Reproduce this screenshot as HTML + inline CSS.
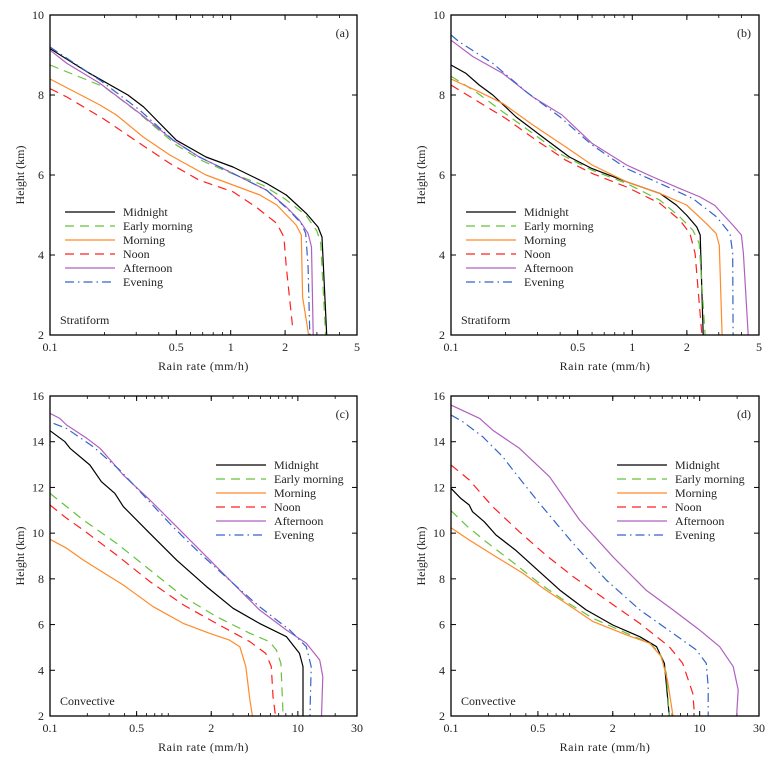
<!DOCTYPE html>
<html><head><meta charset="utf-8"><style>
html,body{margin:0;padding:0;background:#fff;}
svg{display:block;font-family:"Liberation Serif","DejaVu Serif",serif;}
</style></head><body>
<svg id="fig" width="783" height="763" viewBox="0 0 783 763" xmlns="http://www.w3.org/2000/svg"></svg>
<script>
// ---- Panel (a) stratiform ----
const aMidR=[0.1,0.16,0.27,0.33,0.5,0.73,1.03,1.58,2.03,2.62,3.04,3.2,3.4];
const aMidH=[9.16,8.58,8.0,7.7,6.87,6.45,6.2,5.79,5.5,5.04,4.7,4.45,2];
const aEarR=[0.1,0.2,0.3,0.5,0.7,1,1.5,2,2.6,3.0,3.15,3.35];
const aEarH=[8.75,8.2,7.6,6.75,6.35,6.05,5.75,5.4,5.0,4.6,4.3,2];
const aMorR=[0.1,0.189,0.233,0.328,0.46,0.73,1.45,1.8,2.3,2.46,2.5,2.7];
const aMorH=[8.4,7.75,7.5,6.95,6.5,6.0,5.5,5.25,4.75,4.5,2.95,2];
const aNooR=[0.1,0.124,0.197,0.314,0.46,0.67,1.03,1.38,1.8,1.97,2.03,2.2];
const aNooH=[8.16,7.95,7.41,6.79,6.29,5.87,5.58,5.2,4.79,4.45,3.7,2.2];
const aAftR=[0.1,0.124,0.189,0.314,0.48,0.67,1.03,1.58,2.03,2.4,2.68,2.8,2.86];
const aAftH=[9.12,8.79,8.29,7.54,6.87,6.45,6.04,5.62,5.2,4.87,4.54,4.2,2];
const aEveR=[0.1,0.189,0.314,0.48,0.67,1.03,1.58,2.1,2.46,2.6,2.68,2.74];
const aEveH=[9.2,8.37,7.62,6.87,6.45,6.04,5.62,5.12,4.79,4.54,3.7,2];
// ---- Panel (b) stratiform ----
const bMidR=[0.1,0.121,0.143,0.17,0.229,0.32,0.45,0.6,0.93,1.42,1.75,1.99,2.27,2.37,2.46];
const bMidH=[8.75,8.54,8.25,8.0,7.45,6.95,6.45,6.16,5.83,5.54,5.25,5.0,4.7,4.5,2];
const bEarR=[0.1,0.137,0.193,0.283,0.41,0.6,0.93,1.42,1.83,2.16,2.34,2.52];
const bEarH=[8.47,8.08,7.58,7.04,6.5,6.12,5.79,5.37,4.95,4.62,4.29,2];
const bMorR=[0.1,0.143,0.193,0.283,0.43,0.6,0.93,1.42,1.99,2.56,2.9,3.02,3.13];
const bMorH=[8.4,8.08,7.79,7.25,6.7,6.25,5.83,5.54,5.25,4.79,4.54,4.24,2];
const bNooR=[0.1,0.137,0.201,0.295,0.43,0.6,0.93,1.42,1.83,2.08,2.22,2.42];
const bNooH=[8.25,7.87,7.41,6.87,6.37,6.04,5.7,5.29,4.87,4.54,4.04,2];
const bAftR=[0.1,0.132,0.193,0.283,0.41,0.6,0.93,1.3,1.83,2.37,2.85,3.6,4.0,4.1,4.36];
const bAftH=[9.37,8.96,8.54,7.95,7.5,6.79,6.25,5.95,5.66,5.45,5.24,4.74,4.5,4.04,2];
const bEveR=[0.1,0.111,0.17,0.26,0.40,0.6,0.93,1.42,2.16,2.92,3.46,3.58,3.6];
const bEveH=[9.5,9.33,8.79,8.08,7.45,6.75,6.16,5.79,5.41,4.95,4.54,4.04,2];
// ---- Panel (c) convective ----
const cMidR=[0.1,0.132,0.145,0.21,0.26,0.334,0.39,0.64,1.05,1.83,3.0,4.9,8.1,10.3,11.0,11.0];
const cMidH=[14.48,14.0,13.71,12.98,12.25,11.74,11.16,9.99,8.82,7.66,6.71,6.05,5.47,4.74,4.16,2];
const cEarR=[0.1,0.136,0.185,0.345,0.64,1.19,2.2,4.1,5.9,6.7,7.3,7.6];
const cEarH=[11.74,11.16,10.58,9.55,8.39,7.22,6.35,5.62,5.25,4.89,4.3,2];
const cMorR=[0.1,0.136,0.185,0.237,0.39,0.68,1.19,1.94,2.8,3.4,3.8,4.1,4.3];
const cMorH=[9.73,9.34,8.83,8.46,7.73,6.78,6.05,5.62,5.32,5.03,4.16,2.7,2];
const cNooR=[0.1,0.136,0.185,0.345,0.64,1.19,2.2,4.1,5.5,6.1,6.3,6.6];
const cNooH=[11.23,10.65,10.14,9.04,7.88,6.86,6.05,5.25,4.74,4.16,2.85,2];
const cAftR=[0.1,0.12,0.136,0.198,0.253,0.324,0.39,0.64,1.05,1.83,3.0,4.9,8.1,11.7,15,15.9,15.5];
const cAftH=[15.24,15.02,14.73,14.15,13.71,13.05,12.54,11.45,10.28,8.97,7.8,6.64,5.76,5.18,4.45,3.72,2];
const cEveR=[0.107,0.136,0.223,0.366,0.565,0.98,1.62,3.0,4.9,8.6,11.7,12.8,12.5];
const cEveH=[14.8,14.58,13.78,12.76,11.67,10.28,9.12,7.8,6.78,5.76,5.03,4.16,2];
// ---- Panel (d) convective ----
const dMidR=[0.1,0.12,0.14,0.149,0.185,0.23,0.33,0.48,0.75,1.22,2.0,3.3,4.5,5.2,5.7];
const dMidH=[11.96,11.52,11.23,10.94,10.5,9.92,9.26,8.46,7.51,6.64,5.98,5.47,5.03,4.3,2];
const dEarR=[0.1,0.136,0.191,0.31,0.515,0.84,1.39,2.6,3.97,4.8,5.4,5.7];
const dEarH=[10.98,10.28,9.63,8.75,7.8,7.0,6.27,5.62,5.18,4.74,3.87,2];
const dMorR=[0.1,0.14,0.23,0.38,0.55,0.84,1.39,2.6,3.97,4.9,5.5,6.1];
const dMorH=[10.24,9.7,8.97,8.24,7.59,6.93,6.13,5.54,5.18,4.6,3.58,2];
const dNooR=[0.1,0.14,0.216,0.355,0.58,0.96,1.77,3.3,5.7,7.3,8.8,9.1];
const dNooH=[12.98,12.33,11.16,10.06,9.04,8.1,7.08,6.05,5.03,4.3,2.99,2];
const dAftR=[0.1,0.17,0.216,0.355,0.62,1.08,2.0,3.7,6.1,10.0,14.5,18.6,20.4,19.8];
const dAftH=[15.6,15.02,14.51,13.71,12.47,10.58,8.97,7.51,6.64,5.76,5.03,4.16,3.14,2];
const dEveR=[0.1,0.124,0.18,0.26,0.33,0.515,0.96,1.77,3.3,6.1,9.4,11.3,11.7,11.7];
const dEveH=[15.17,14.88,14.22,13.35,12.62,11.3,9.55,7.95,6.64,5.62,4.89,4.3,3.28,2];
// ---- labels / ticks ----
const seriesNames=["Midnight","Early  morning","Morning","Noon","Afternoon","Evening"];
const stratXTicks=[0.1,0.5,1,2,5];
const stratXTickLabels=["0.1","0.5","1","2","5"];
const convXTicks=[0.1,0.5,2,10,30];
const convXTickLabels=["0.1","0.5","2","10","30"];
const stratYTicks=[2,4,6,8,10];
const convYTicks=[2,4,6,8,10,12,14,16];

const NS="http://www.w3.org/2000/svg";
const svg=document.getElementById('fig');
const colors=["#000000","#66c23a","#ff8a2a","#ff2020","#b060c0","#3465c8"];
const dashes=[null,"9,6",null,"9,6",null,"9,4,1.5,4"];
function mk(tag,attrs,parent){const e=document.createElementNS(NS,tag);for(const k in attrs)e.setAttribute(k,attrs[k]);(parent||svg).appendChild(e);return e;}

function panel(id,x0,x1,y0,y1,xmin,xmax,ymin,ymax,xt,xtl,yt,series,tag,kind,legX,legY){
  const g=mk('g',{});
  
  
  const xs=v=>x0+(x1-x0)*Math.log10(v/xmin)/Math.log10(xmax/xmin);
  const ys=v=>y1-(y1-y0)*(v-ymin)/(ymax-ymin);
  // minor x ticks
  for(let d=-1;d<=1;d++){for(let m=2;m<=9;m++){const v=m*Math.pow(10,d);if(v<=xmin||v>=xmax)continue;const X=xs(v);
    const t1=mk('line',{x1:X,x2:X,y1:y1,y2:y1-3,stroke:'#000','stroke-width':0.8},g);
    
    const t2=mk('line',{x1:X,x2:X,y1:y0,y2:y0+3,stroke:'#000','stroke-width':0.8},g);
    }}
  xt.forEach((v,i)=>{const X=xs(v);
    const t=mk('line',{x1:X,x2:X,y1:y1,y2:y1-5,stroke:'#000','stroke-width':1},g);
    
    const t2=mk('line',{x1:X,x2:X,y1:y0,y2:y0+5,stroke:'#000','stroke-width':1},g);
    
    const l=mk('text',{x:X,y:y1+16,'font-size':12,'text-anchor':'middle',fill:'#222'},g);l.textContent=xtl[i];
    });
  yt.forEach(v=>{const Y=ys(v);
    const t=mk('line',{x1:x0,x2:x0+5,y1:Y,y2:Y,stroke:'#000','stroke-width':1},g);
    
    const t2=mk('line',{x1:x1,x2:x1-5,y1:Y,y2:Y,stroke:'#000','stroke-width':1},g);
    
    const l=mk('text',{x:x0-6,y:Y+4,'font-size':12,'text-anchor':'end',fill:'#222'},g);l.textContent=String(v);
    });
  series.forEach((s,i)=>{
    const pts=s[0].map((r,k)=>xs(r).toFixed(1)+','+ys(s[1][k]).toFixed(1)).join(' ');
    const a={points:pts,fill:'none',stroke:colors[i],'stroke-width':1.2,'stroke-linejoin':'round'};
    if(dashes[i])a['stroke-dasharray']=dashes[i];
    const p=mk('polyline',a,g);
    
    
    const ly=legY+i*14;
    const a2={x1:legX,x2:legX+50,y1:ly,y2:ly,stroke:colors[i],'stroke-width':1.3};
    if(dashes[i])a2['stroke-dasharray']=dashes[i];
    const ll=mk('line',a2,g);
    
    const lt=mk('text',{x:legX+58,y:ly+4,'font-size':12,fill:'#222'},g);lt.textContent=seriesNames[i];
    
  });
  const fr=mk('rect',{x:x0,y:y0,width:x1-x0,height:y1-y0,fill:'none',stroke:'#000','stroke-width':1.3},g);
  
  const pl=mk('text',{x:x1-8,y:y0+22,'font-size':12,'text-anchor':'end',fill:'#222'},g);pl.textContent='('+tag+')';
  
  const kl=mk('text',{x:x0+10,y:y1-11,'font-size':12,fill:'#222'},g);kl.textContent=kind;
  
  const xl=mk('text',{x:(x0+x1)/2,y:y1+35,'font-size':12,'text-anchor':'middle',fill:'#222','letter-spacing':'0.5'},g);xl.textContent='Rain  rate  (mm/h)';
  
  const yx=x0-26,yy=(y0+y1)/2;
  const yl=mk('text',{x:yx,y:yy,'font-size':12,'text-anchor':'middle',fill:'#222',transform:'rotate(-90 '+yx+' '+yy+')'},g);yl.textContent='Height (km)';
  
}
panel('a',50,357,15,335,0.1,5,2,10,stratXTicks,stratXTickLabels,stratYTicks,
 [[aMidR,aMidH],[aEarR,aEarH],[aMorR,aMorH],[aNooR,aNooH],[aAftR,aAftH],[aEveR,aEveH]],'a','Stratiform',65,212);
panel('b',451,759,15,335,0.1,5,2,10,stratXTicks,stratXTickLabels,stratYTicks,
 [[bMidR,bMidH],[bEarR,bEarH],[bMorR,bMorH],[bNooR,bNooH],[bAftR,bAftH],[bEveR,bEveH]],'b','Stratiform',466,212);
panel('c',50,357,396,716,0.1,30,2,16,convXTicks,convXTickLabels,convYTicks,
 [[cMidR,cMidH],[cEarR,cEarH],[cMorR,cMorH],[cNooR,cNooH],[cAftR,cAftH],[cEveR,cEveH]],'c','Convective',216,465);
panel('d',451,759,396,716,0.1,30,2,16,convXTicks,convXTickLabels,convYTicks,
 [[dMidR,dMidH],[dEarR,dEarH],[dMorR,dMorH],[dNooR,dNooH],[dAftR,dAftH],[dEveR,dEveH]],'d','Convective',617,465);
</script>
</body></html>
